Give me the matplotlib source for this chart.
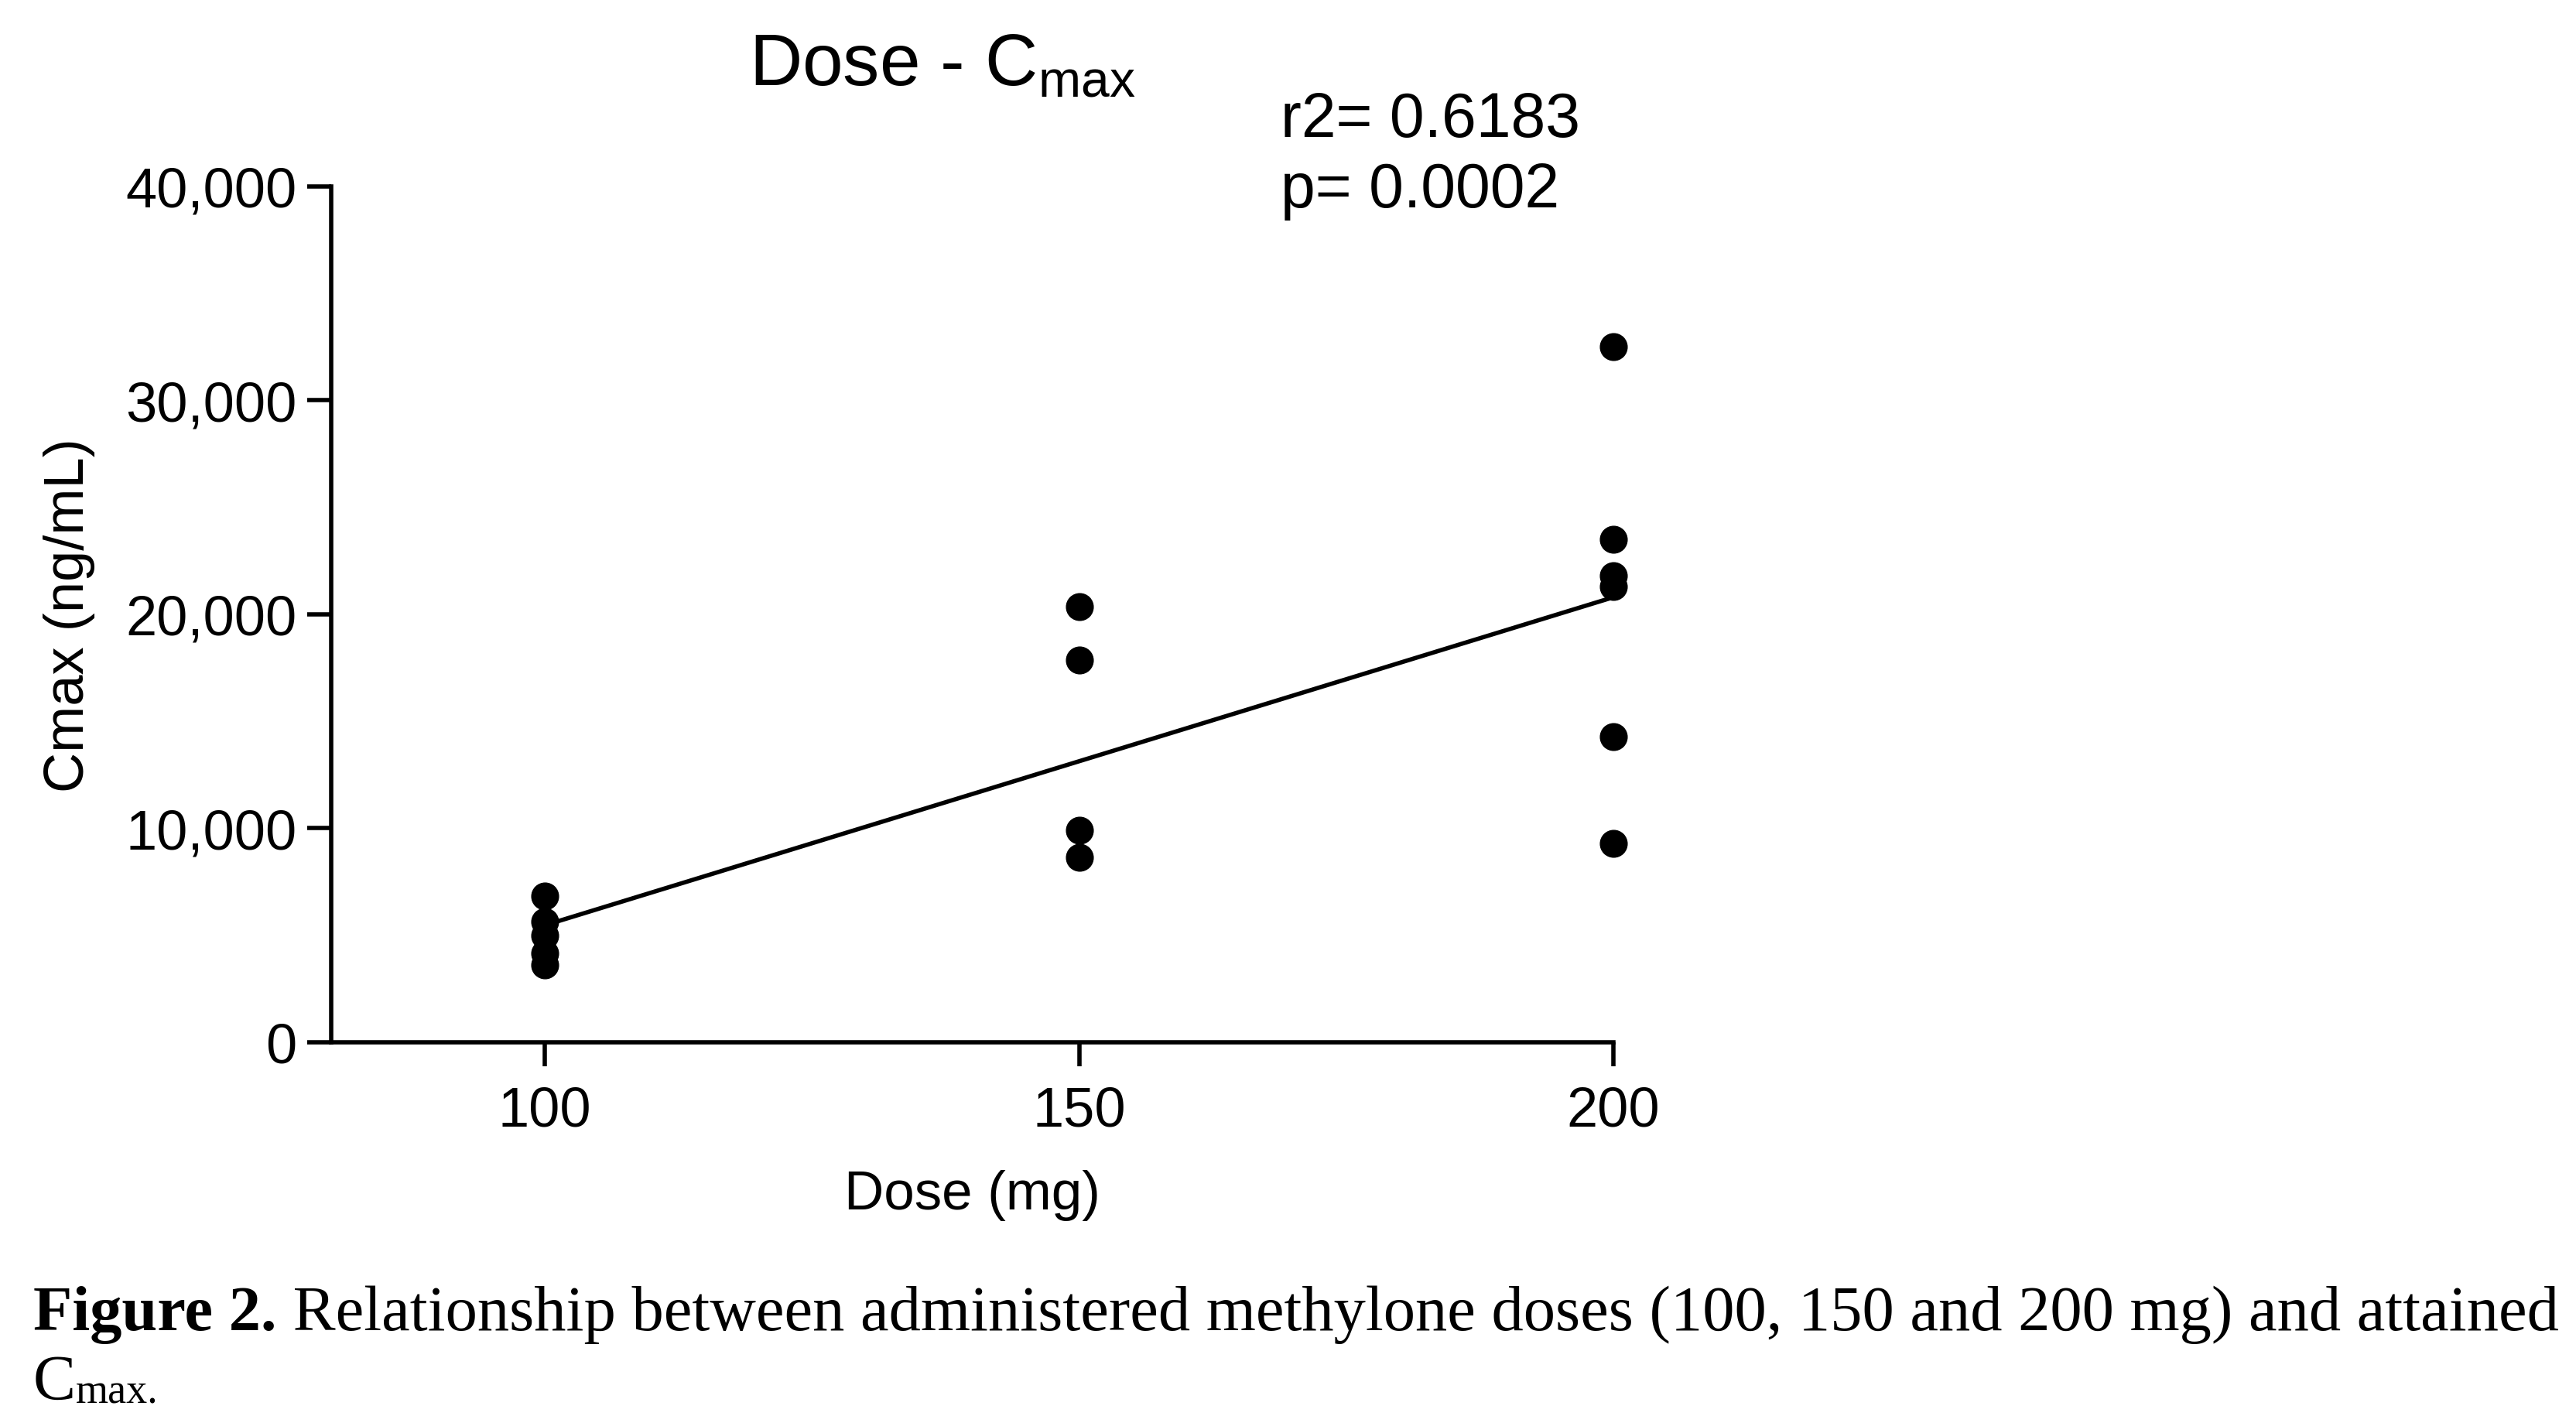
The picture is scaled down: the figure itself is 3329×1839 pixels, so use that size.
import numpy as np
import matplotlib
matplotlib.use('Agg')
from matplotlib import pyplot as plt
from matplotlib.ticker import FuncFormatter

plt.rcParams['font.family'] = ['Liberation Sans', 'DejaVu Sans']
plt.rcParams['mathtext.fontset'] = 'custom'
plt.rcParams['mathtext.rm'] = 'Liberation Sans'
plt.rcParams['mathtext.it'] = 'Liberation Sans:italic'

#Data
dose_100 = [6850, 5650, 5000, 4150, 3600]
dose_150 = [20350, 17850, 9900, 8650]
dose_200 = [32500, 23500, 21800, 21300, 9300, 14300]
doses = [100, 150, 200]
x_ticks = [100, 150, 200]
y_ticks = [0, 10000, 20000, 30000, 40000]
r2_text = "r2= 0.6183"
p_text = "p= 0.0002"

x = np.array([100]*len(dose_100) + [150]*len(dose_150) + [200]*len(dose_200))
y = np.array(dose_100 + dose_150 + dose_200)

fig = plt.figure(figsize=(33.29, 18.40), dpi=100)
ax = fig.add_axes([0.1286, 0.2674, 0.4977, 0.6011])

#Points
ax.plot(x, y, 'o', color='black', markersize=25, clip_on=False, zorder=3)

#Linear fit
slope, intercept = np.polyfit(x, y, 1)
xf = np.array([doses[0], doses[-1]])
ax.plot(xf, slope*xf + intercept, color='black', linewidth=4, zorder=2)

ax.set_xlim(80, 200)
ax.set_ylim(0, 40000)
ax.set_xticks(x_ticks)
ax.set_yticks(y_ticks)
ax.yaxis.set_major_formatter(FuncFormatter(lambda v, pos: f"{int(v):,}"))

for s in ['top', 'right']:
    ax.spines[s].set_visible(False)
for s in ['left', 'bottom']:
    ax.spines[s].set_linewidth(4)
ax.tick_params(axis='both', direction='out', length=22, width=4, labelsize=52, pad=10)
ax.tick_params(axis='x', pad=18)

ax.set_xlabel("Dose (mg)", fontsize=51, labelpad=30)
ax.set_ylabel("Cmax (ng/mL)", fontsize=52, labelpad=28)

#Title and stats
fig.text(968/3329, 1-110/1840, r"Dose - C$_{\mathrm{max}}$", fontsize=68, ha='left', va='baseline')
fig.text(1655/3329, 1-177/1840, r2_text, fontsize=58, ha='left', va='baseline')
fig.text(1655/3329, 1-268/1840, p_text, fontsize=58, ha='left', va='baseline')

#Caption
serif = ['Liberation Serif', 'DejaVu Serif']
t1 = fig.text(43/3329, 1-1719/1840, "Figure 2.", fontsize=59.4, fontweight='bold', family=serif, ha='left', va='baseline')
ax.annotate(" Relationship between administered methylone doses (100, 150 and 200 mg) and attained",
            xy=(1, 0), xycoords=t1, va='bottom', ha='left', fontsize=59.4, family=serif, annotation_clip=False)
t3 = fig.text(43/3329, 1-1808/1840, "C", fontsize=59.4, family=serif, ha='left', va='baseline')
ax.annotate("max.", xy=(1, 0), xycoords=t3, va='bottom', ha='left', fontsize=39, family=serif, annotation_clip=False)

fig.savefig('out.png', dpi=100)
